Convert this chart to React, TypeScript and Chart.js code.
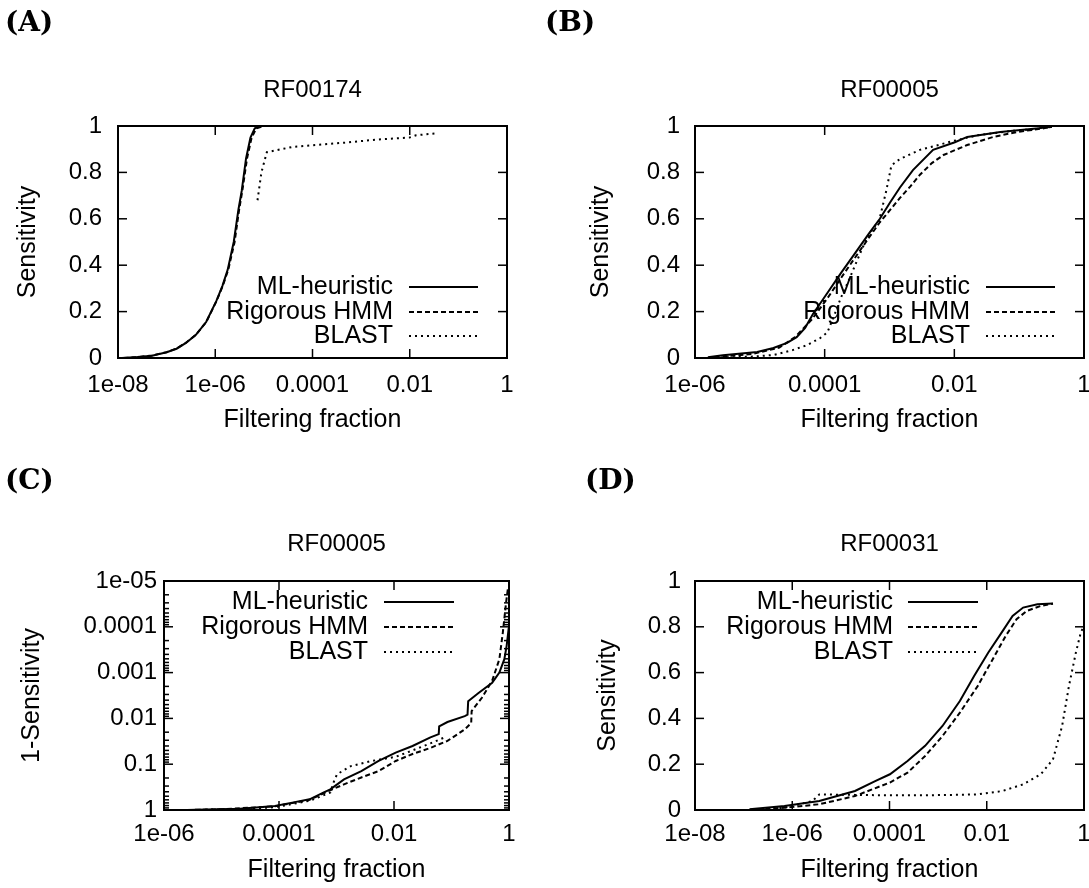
import React, { useEffect, useRef } from 'react';
import { Chart, registerables } from 'chart.js';

Chart.register(...registerables);

const SANS = "'Liberation Sans', Arial, Helvetica, sans-serif";
const SERIF = "'DejaVu Serif', 'Liberation Serif', serif";

const SERIES_NAMES = ['ML-heuristic', 'Rigorous HMM', 'BLAST'];
const X_TITLE = 'Filtering fraction';

// tick values and labels
const X_TICKS_8 = [1e-8, 1e-6, 1e-4, 1e-2, 1];
const X_LABELS_8 = ['1e-08', '1e-06', '0.0001', '0.01', '1'];
const X_TICKS_6 = [1e-6, 1e-4, 1e-2, 1];
const X_LABELS_6 = ['1e-06', '0.0001', '0.01', '1'];
const Y_TICKS_LIN = [0, 0.2, 0.4, 0.6, 0.8, 1];
const Y_LABELS_LIN = ['0', '0.2', '0.4', '0.6', '0.8', '1'];
const Y_TICKS_LOG = [1e-5, 1e-4, 1e-3, 1e-2, 1e-1, 1];
const Y_LABELS_LOG = ['1e-05', '0.0001', '0.001', '0.01', '0.1', '1'];

// ---------- Panel A : RF00174 ----------
const A_ML_X = [1.2e-8, 2.5e-8, 5e-8, 1e-7, 1.6e-7, 2.5e-7, 4e-7, 6.5e-7, 1.05e-6, 1.4e-6, 1.8e-6, 2.4e-6, 3.0e-6, 3.5e-6, 4.3e-6, 5.3e-6, 6.5e-6, 9e-6];
const A_ML_Y = [0, 0.004, 0.01, 0.025, 0.04, 0.065, 0.1, 0.155, 0.245, 0.31, 0.38, 0.5, 0.64, 0.72, 0.86, 0.95, 0.99, 1.0];
const A_HMM_X = [1.3e-8, 2.6e-8, 5e-8, 1e-7, 1.6e-7, 2.5e-7, 4e-7, 6.6e-7, 1.06e-6, 1.42e-6, 1.85e-6, 2.5e-6, 3.1e-6, 3.6e-6, 4.5e-6, 5.6e-6, 7e-6, 1e-5];
const A_HMM_Y = [0, 0.004, 0.011, 0.025, 0.041, 0.066, 0.1, 0.157, 0.245, 0.31, 0.38, 0.5, 0.64, 0.72, 0.86, 0.95, 0.99, 1.0];
const A_BLAST_X = [7.4e-6, 8.9e-6, 1.15e-5, 3.9e-5, 4.5e-4, 2.2e-3, 9.8e-3, 1.35e-2, 3.3e-2];
const A_BLAST_Y = [0.68, 0.8, 0.887, 0.91, 0.928, 0.942, 0.95, 0.96, 0.968];

// ---------- Panel B : RF00005 ----------
const B_ML_X = [1.58e-6, 2.69e-6, 9.1e-6, 1.62e-5, 2.63e-5, 3.7e-5, 5.0e-5, 6.6e-5, 1.1e-4, 1.78e-4, 2.95e-4, 4.9e-4, 7.1e-4, 1.02e-3, 1.45e-3, 2.3e-3, 4.7e-3, 1.02e-2, 1.58e-2, 5.1e-2, 0.2, 0.32];
const B_ML_Y = [0.003, 0.012, 0.026, 0.043, 0.065, 0.09, 0.13, 0.19, 0.28, 0.366, 0.452, 0.539, 0.6, 0.67, 0.735, 0.81, 0.897, 0.93, 0.953, 0.974, 0.99, 0.997];
const B_HMM_X = [2.0e-6, 7.9e-6, 2.0e-5, 3.5e-5, 6.3e-5, 1.12e-4, 2.0e-4, 3.16e-4, 5.0e-4, 7.1e-4, 1.0e-3, 1.45e-3, 2.1e-3, 2.95e-3, 4.5e-3, 6.8e-3, 1.58e-2, 4.0e-2, 9.3e-2, 0.234, 0.32];
const B_HMM_Y = [0.003, 0.018, 0.045, 0.09, 0.165, 0.26, 0.365, 0.445, 0.525, 0.585, 0.635, 0.69, 0.74, 0.79, 0.84, 0.875, 0.918, 0.953, 0.974, 0.99, 0.997];
const B_BLAST_X = [2.5e-6, 7.9e-6, 1.62e-5, 3.2e-5, 5.4e-5, 8.5e-5, 1.1e-4, 1.48e-4, 1.78e-4, 2.4e-4, 3.16e-4, 4.2e-4, 5.6e-4, 6.9e-4, 8.9e-4, 1.07e-3, 1.45e-3, 2.95e-3, 6.0e-3, 9.5e-3, 2.3e-2, 7.2e-2, 0.234, 0.32];
const B_BLAST_Y = [0.002, 0.006, 0.013, 0.034, 0.056, 0.086, 0.11, 0.2, 0.26, 0.34, 0.42, 0.5, 0.56, 0.59, 0.72, 0.83, 0.858, 0.897, 0.92, 0.935, 0.96, 0.978, 0.99, 0.997];

// ---------- Panel C : RF00005 (1-Sensitivity) ----------
const C_ML_X = [2.5e-6, 5.4e-6, 2.1e-5, 8.5e-5, 1.7e-4, 3.4e-4, 5.9e-4, 7.8e-4, 1.35e-3, 2.7e-3, 5.4e-3, 1.07e-2, 2.1e-2, 4.3e-2, 6.0e-2, 6.1e-2, 8.5e-2, 0.17, 0.19, 0.195, 0.295, 0.51, 0.68, 0.83, 0.91, 0.99];
const C_ML_Y = [1.0, 0.98, 0.935, 0.82, 0.69, 0.585, 0.417, 0.355, 0.214, 0.141, 0.085, 0.056, 0.04, 0.026, 0.022, 0.015, 0.012, 0.0089, 0.0083, 0.0042, 0.0028, 0.00166, 0.001, 5.1e-4, 2.6e-4, 1.05e-4];
const C_HMM_X = [2.5e-6, 1e-5, 8.5e-5, 3.4e-4, 7.8e-4, 1.35e-3, 2.7e-3, 5.4e-3, 1.07e-2, 2.1e-2, 4.3e-2, 8.5e-2, 0.17, 0.22, 0.224, 0.34, 0.51, 0.68, 0.78, 0.89, 0.955];
const C_HMM_Y = [1.0, 0.966, 0.83, 0.6, 0.37, 0.275, 0.195, 0.141, 0.085, 0.06, 0.044, 0.031, 0.0174, 0.0126, 0.0069, 0.0035, 0.0015, 5.1e-4, 1.35e-4, 2.95e-5, 1.5e-5];
const C_BLAST_X = [3.2e-6, 2.1e-5, 8.5e-5, 3.4e-4, 7.8e-4, 8.9e-4, 1.02e-3, 1.78e-3, 4.1e-3, 1.07e-2, 2.1e-2, 4.3e-2, 7.6e-2];
const C_BLAST_Y = [1.0, 0.955, 0.87, 0.63, 0.417, 0.25, 0.166, 0.11, 0.085, 0.069, 0.05, 0.035, 0.026];

// ---------- Panel D : RF00031 ----------
const D_ML_X = [1.32e-7, 6.9e-7, 3.6e-6, 1.95e-5, 5.2e-5, 1.02e-4, 2.35e-4, 5.4e-4, 1.23e-3, 2.8e-3, 5.5e-3, 1.07e-2, 2.1e-2, 3.4e-2, 5.6e-2, 0.11, 0.23];
const D_ML_Y = [0.003, 0.017, 0.039, 0.083, 0.127, 0.156, 0.214, 0.28, 0.367, 0.476, 0.585, 0.687, 0.78, 0.847, 0.884, 0.898, 0.902];
const D_HMM_X = [1.32e-7, 6.9e-7, 3.6e-6, 1.95e-5, 1.02e-4, 2.35e-4, 5.4e-4, 1.23e-3, 2.8e-3, 6.5e-3, 1.26e-2, 2.45e-2, 4.1e-2, 6.6e-2, 0.129, 0.23];
const D_HMM_Y = [0.0, 0.01, 0.025, 0.061, 0.12, 0.163, 0.236, 0.323, 0.425, 0.541, 0.65, 0.76, 0.833, 0.869, 0.891, 0.901];
const D_BLAST_X = [1.32e-7, 6.9e-7, 2.6e-6, 3.6e-6, 1.95e-5, 1.02e-4, 5.4e-4, 6.5e-3, 2.1e-2, 5.6e-2, 0.129, 0.23, 0.355, 0.49, 0.68, 0.87, 1.0];
const D_BLAST_Y = [0.0, 0.01, 0.039, 0.068, 0.066, 0.064, 0.064, 0.068, 0.083, 0.112, 0.156, 0.221, 0.367, 0.541, 0.687, 0.78, 0.8];

const DASHES: number[][] = [[], [5, 3], [2, 4]];
const LINE_W = 2;

type Panel = {
  tag: string; tagLeft: number; tagTop: number;
  title: string;
  left: number; top: number; width: number; height: number;
  yAxisW: number; xAxisH: number; padRight: number;
  titleTop: number; titleBottom: number;
  xMin: number; xMax: number; xTicks: number[]; xLabels: string[];
  yLog: boolean; yMin: number; yMax: number; yTicks: number[]; yLabels: string[]; yReverse: boolean;
  yTitle: string; yTitlePad: number; yTickPad: number; xTickPad: number; xTitlePad: number;
  legend: { text: number; from: number; to: number; rows: number[] };
  series: number[][][];
};

const PANELS: Panel[] = [
  {
    tag: '(A)', tagLeft: 5, tagTop: 8, title: 'RF00174',
    left: 0, top: 0, width: 544, height: 444,
    yAxisW: 118, xAxisH: 86, padRight: 37, titleTop: 76, titleBottom: 21.2,
    xMin: 1e-8, xMax: 1, xTicks: X_TICKS_8, xLabels: X_LABELS_8,
    yLog: false, yMin: 0, yMax: 1, yTicks: Y_TICKS_LIN, yLabels: Y_LABELS_LIN, yReverse: false,
    yTitle: 'Sensitivity', yTitlePad: 13, yTickPad: 16, xTickPad: 12.6, xTitlePad: 9,
    legend: { text: 114, from: 98, to: 29, rows: [161, 186, 210] },
    series: [[A_ML_X, A_ML_Y], [A_HMM_X, A_HMM_Y], [A_BLAST_X, A_BLAST_Y]],
  },
  {
    tag: '(B)', tagLeft: 545, tagTop: 8, title: 'RF00005',
    left: 544, top: 0, width: 545, height: 444,
    yAxisW: 151, xAxisH: 86, padRight: 5, titleTop: 76, titleBottom: 21.2,
    xMin: 1e-6, xMax: 1, xTicks: X_TICKS_6, xLabels: X_LABELS_6,
    yLog: false, yMin: 0, yMax: 1, yTicks: Y_TICKS_LIN, yLabels: Y_LABELS_LIN, yReverse: false,
    yTitle: 'Sensitivity', yTitlePad: 42, yTickPad: 15, xTickPad: 12.6, xTitlePad: 9,
    legend: { text: 114, from: 98, to: 29, rows: [161, 186, 210] },
    series: [[B_ML_X, B_ML_Y], [B_HMM_X, B_HMM_Y], [B_BLAST_X, B_BLAST_Y]],
  },
  {
    tag: '(C)', tagLeft: 5, tagTop: 466, title: 'RF00005',
    left: 0, top: 444, width: 544, height: 444,
    yAxisW: 164, xAxisH: 78, padRight: 35, titleTop: 85.6, titleBottom: 22.6,
    xMin: 1e-6, xMax: 1, xTicks: X_TICKS_6, xLabels: X_LABELS_6,
    yLog: true, yMin: 1e-5, yMax: 1, yTicks: Y_TICKS_LOG, yLabels: Y_LABELS_LOG, yReverse: true,
    yTitle: '1-Sensitivity', yTitlePad: 17, yTickPad: 7, xTickPad: 10, xTitlePad: 3,
    legend: { text: 141, from: 125, to: 55, rows: [21, 46, 71] },
    series: [[C_ML_X, C_ML_Y], [C_HMM_X, C_HMM_Y], [C_BLAST_X, C_BLAST_Y]],
  },
  {
    tag: '(D)', tagLeft: 585, tagTop: 466, title: 'RF00031',
    left: 544, top: 444, width: 545, height: 444,
    yAxisW: 151, xAxisH: 78, padRight: 5, titleTop: 85.6, titleBottom: 22.6,
    xMin: 1e-8, xMax: 1, xTicks: X_TICKS_8, xLabels: X_LABELS_8,
    yLog: false, yMin: 0, yMax: 1, yTicks: Y_TICKS_LIN, yLabels: Y_LABELS_LIN, yReverse: false,
    yTitle: 'Sensitivity', yTitlePad: 49, yTickPad: 14, xTickPad: 10, xTitlePad: 3,
    legend: { text: 191, from: 176, to: 106, rows: [21, 46, 71] },
    series: [[D_ML_X, D_ML_Y], [D_HMM_X, D_HMM_Y], [D_BLAST_X, D_BLAST_Y]],
  },
];

const gnuplotFrame = {
  id: 'gnuplotFrame',
  afterDatasetsDraw(chart: any, _args: any, opts: any) {
    const { ctx, chartArea } = chart;
    const { left, right, top, bottom } = chartArea;
    const xs = chart.scales.x;
    const ys = chart.scales.y;
    ctx.save();
    ctx.strokeStyle = '#000';
    ctx.setLineDash([]);
    const seg = (x1: number, y1: number, x2: number, y2: number) => {
      ctx.beginPath(); ctx.moveTo(x1, y1); ctx.lineTo(x2, y2); ctx.stroke();
    };
    const T = 9;
    ctx.lineWidth = 1.5;
    xs.ticks.forEach((t: any) => {
      const px = xs.getPixelForValue(t.value);
      seg(px, bottom, px, bottom - T);
      seg(px, top, px, top + T);
    });
    ys.ticks.forEach((t: any) => {
      const py = ys.getPixelForValue(t.value);
      seg(left, py, left + T, py);
      seg(right, py, right - T, py);
    });
    if (opts.yMinor) {
      const tv = ys.ticks.map((t: any) => t.value);
      for (let i = 0; i < tv.length - 1; i++) {
        for (let m = 2; m <= 9; m++) {
          const py = ys.getPixelForValue(tv[i] * m);
          seg(left, py, left + 5, py);
          seg(right, py, right - 5, py);
        }
      }
    }
    ctx.lineWidth = 2;
    ctx.strokeRect(left, top, right - left, bottom - top);
    const lg = opts.legend;
    ctx.font = `25px ${SANS}`;
    ctx.fillStyle = '#000';
    ctx.textAlign = 'right';
    ctx.textBaseline = 'middle';
    chart.data.datasets.forEach((ds: any, i: number) => {
      const y = top + lg.rows[i];
      ctx.fillText(ds.label, right - lg.text, y);
      ctx.lineWidth = LINE_W;
      ctx.setLineDash(ds.borderDash || []);
      seg(right - lg.from, y, right - lg.to, y);
      ctx.setLineDash([]);
    });
    ctx.restore();
  },
};

function makeConfig(p: Panel): any {
  const datasets = p.series.map((s, i) => ({
    label: SERIES_NAMES[i],
    data: s[0].map((x, j) => ({ x, y: s[1][j] })),
    borderColor: '#000',
    backgroundColor: '#000',
    borderWidth: LINE_W,
    borderDash: DASHES[i],
    pointRadius: 0,
    fill: false,
    tension: 0,
  }));
  const tickFont = { family: SANS, size: 24 };
  const titleFont = { family: SANS, size: 25 };
  return {
    type: 'line',
    data: { datasets },
    plugins: [gnuplotFrame],
    options: {
      animation: false,
      responsive: false,
      devicePixelRatio: 1,
      layout: { padding: { left: 0, top: 0, right: p.padRight, bottom: 0 } },
      plugins: {
        legend: { display: false },
        tooltip: { enabled: false },
        title: {
          display: true, text: p.title, fullSize: false, color: '#000',
          font: { family: SANS, size: 24, weight: 'normal' },
          padding: { top: p.titleTop, bottom: p.titleBottom },
        },
        gnuplotFrame: { legend: p.legend, yMinor: p.yLog },
      },
      scales: {
        x: {
          type: 'logarithmic', min: p.xMin, max: p.xMax,
          afterBuildTicks: (sc: any) => { sc.ticks = p.xTicks.map((v) => ({ value: v })); },
          afterFit: (sc: any) => { sc.height = p.xAxisH; sc.paddingLeft = 0; sc.paddingRight = 0; },
          grid: { display: false, drawTicks: false },
          border: { display: false },
          ticks: {
            autoSkip: false, maxRotation: 0, minRotation: 0, padding: p.xTickPad, color: '#000',
            font: tickFont, callback: (_v: any, i: number) => p.xLabels[i],
          },
          title: { display: true, text: X_TITLE, color: '#000', font: titleFont, padding: { top: 0, bottom: p.xTitlePad } },
        },
        y: {
          type: p.yLog ? 'logarithmic' : 'linear', min: p.yMin, max: p.yMax, reverse: p.yReverse,
          afterBuildTicks: (sc: any) => { sc.ticks = p.yTicks.map((v) => ({ value: v })); },
          afterFit: (sc: any) => { sc.width = p.yAxisW; sc.paddingTop = 0; sc.paddingBottom = 0; },
          grid: { display: false, drawTicks: false },
          border: { display: false },
          ticks: {
            autoSkip: false, padding: p.yTickPad, color: '#000',
            font: tickFont, callback: (_v: any, i: number) => p.yLabels[i],
          },
          title: { display: true, text: p.yTitle, color: '#000', font: titleFont, padding: { top: p.yTitlePad, bottom: 0 } },
        },
      },
    },
  };
}

function PanelChart({ p }: { p: Panel }) {
  const ref = useRef<HTMLCanvasElement | null>(null);
  useEffect(() => {
    if (!ref.current) return;
    const chart = new Chart(ref.current, makeConfig(p));
    return () => chart.destroy();
  }, [p]);
  return (
    <canvas
      ref={ref}
      width={p.width}
      height={p.height}
      style={{ position: 'absolute', left: p.left, top: p.top, width: p.width, height: p.height }}
    />
  );
}

export default function App() {
  return (
    <div style={{ position: 'absolute', left: 0, top: 0, width: 1089, height: 888, overflow: 'hidden', background: '#fff' }}>
      {PANELS.map((p) => (
        <PanelChart key={p.tag} p={p} />
      ))}
      {PANELS.map((p) => (
        <div
          key={p.tag + '-tag'}
          style={{ position: 'absolute', left: p.tagLeft, top: p.tagTop, font: `bold 28px ${SERIF}`, lineHeight: '28px', color: '#000' }}
        >
          {p.tag}
        </div>
      ))}
    </div>
  );
}
